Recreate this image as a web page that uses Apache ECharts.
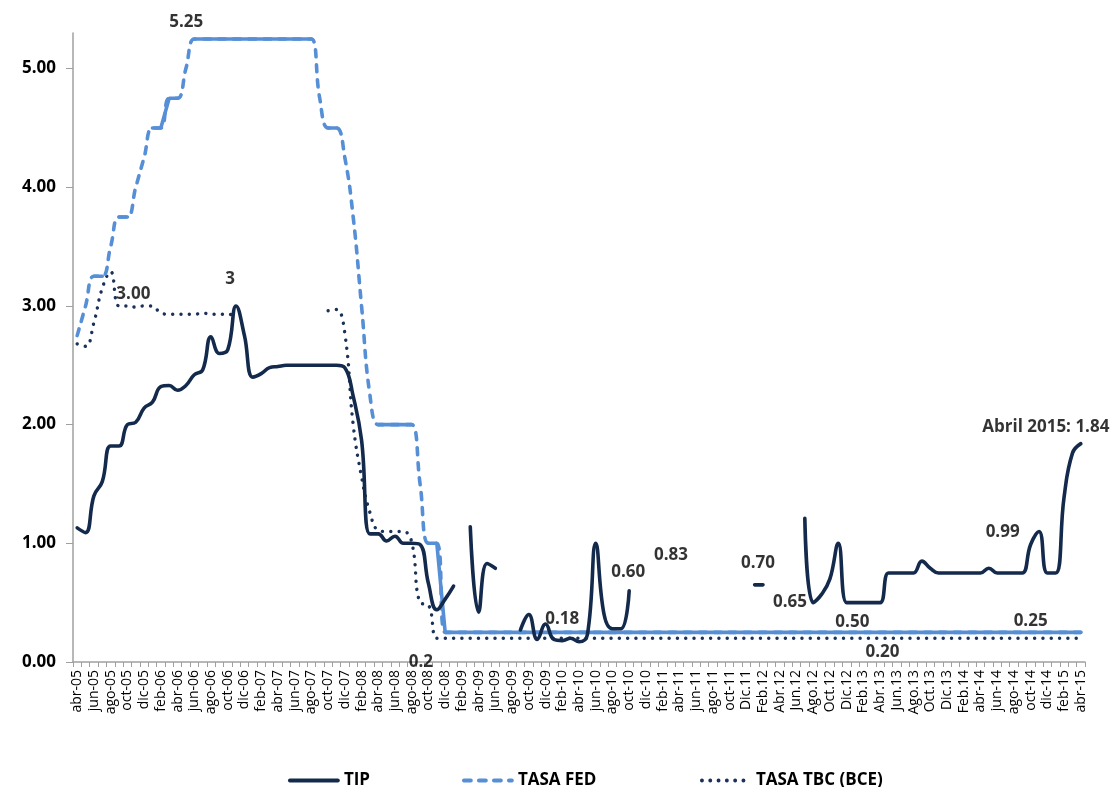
<!DOCTYPE html>
<html>
<head>
<meta charset="utf-8">
<title>TIP, TASA FED y TASA TBC (BCE)</title>
<script src="https://cdn.jsdelivr.net/npm/echarts@6/dist/echarts.min.js"></script>
<style>
  html, body { margin: 0; padding: 0; background: #ffffff; }
  #chart { width: 1111px; height: 787px; }
</style>
</head>
<body>
<div id="chart"></div>
<script>
// Monthly categories, abril 2005 - abril 2015
const categories = [
  'abr-05','may-05','jun-05','jul-05','ago-05','sep-05','oct-05','nov-05','dic-05',
  'ene-06','feb-06','mar-06','abr-06','may-06','jun-06','jul-06','ago-06','sep-06','oct-06','nov-06','dic-06',
  'ene-07','feb-07','mar-07','abr-07','may-07','jun-07','jul-07','ago-07','sep-07','oct-07','nov-07','dic-07',
  'ene-08','feb-08','mar-08','abr-08','may-08','jun-08','jul-08','ago-08','sep-08','oct-08','nov-08','dic-08',
  'ene-09','feb-09','mar-09','abr-09','may-09','jun-09','jul-09','ago-09','sep-09','oct-09','nov-09','dic-09',
  'ene-10','feb-10','mar-10','abr-10','may-10','jun-10','jul-10','ago-10','sep-10','oct-10','nov-10','dic-10',
  'ene-11','feb-11','mar-11','abr-11','may-11','jun-11','jul-11','ago-11','sep-11','oct-11','nov-11','Dic.11',
  'Ene.12','Feb.12','Mar.12','Abr.12','May.12','Jun.12','Jul.12','Ago.12','Sep.12','Oct.12','Nov.12','Dic.12',
  'Ene.13','Feb.13','Mar.13','Abr.13','May.13','Jun.13','Jul.13','Ago.13','Sep.13','Oct.13','Nov.13','Dic.13',
  'Ene.14','Feb.14','mar-14','abr-14','may-14','jun-14','jul-14','ago-14','sep-14','oct-14','nov-14','dic-14',
  'ene-15','feb-15','mar-15','abr-15'
];

// TIP (null = month without data)
const tip = [
  1.13, 1.09, 1.40, 1.52, 1.82, 1.82, 2.00, 2.02, 2.14,
  2.19, 2.32, 2.33, 2.29, 2.33, 2.42, 2.46, 2.74, 2.60, 2.63, 3.00, 2.75,
  2.40, 2.43, 2.48, 2.49, 2.50, 2.50, 2.50, 2.50, 2.50, 2.50, 2.50, 2.48,
  2.24, 1.87, 1.08, 1.08, 1.02, 1.06, 1.00, 1.00, 0.99, 0.66, 0.44, 0.53,
  0.64, null, 1.14, 0.42, 0.83, 0.79, null, null, 0.27, 0.40, 0.19, 0.32,
  0.19, 0.18, 0.20, 0.17, 0.23, 1.00, 0.40, 0.28, 0.28, 0.60, null, null,
  null, null, null, null, null, null, null, null, null, null, null, null,
  0.65, 0.65, null, null, null, null, 1.21, 0.50, 0.57, 0.70, 1.00, 0.50,
  0.50, 0.50, 0.50, 0.50, 0.75, 0.75, 0.75, 0.75, 0.85, 0.79, 0.75, 0.75,
  0.75, 0.75, 0.75, 0.75, 0.79, 0.75, 0.75, 0.75, 0.75, 0.99, 1.10, 0.75,
  0.75, 1.39, 1.76, 1.84
];

// TASA FED
const fed = [
  2.75, 3.00, 3.25, 3.25, 3.50, 3.75, 3.75, 4.00, 4.25,
  4.50, 4.50, 4.75, 4.75, 5.00, 5.25, 5.25, 5.25, 5.25, 5.25, 5.25, 5.25,
  5.25, 5.25, 5.25, 5.25, 5.25, 5.25, 5.25, 5.25, 4.75, 4.50, 4.50, 4.25,
  3.75, 3.00, 2.25, 2.00, 2.00, 2.00, 2.00, 2.00, 1.50, 1.00, 1.00, 0.25,
  0.25, 0.25, 0.25, 0.25, 0.25, 0.25, 0.25, 0.25, 0.25, 0.25, 0.25, 0.25,
  0.25, 0.25, 0.25, 0.25, 0.25, 0.25, 0.25, 0.25, 0.25, 0.25, 0.25, 0.25,
  0.25, 0.25, 0.25, 0.25, 0.25, 0.25, 0.25, 0.25, 0.25, 0.25, 0.25, 0.25,
  0.25, 0.25, 0.25, 0.25, 0.25, 0.25, 0.25, 0.25, 0.25, 0.25, 0.25, 0.25,
  0.25, 0.25, 0.25, 0.25, 0.25, 0.25, 0.25, 0.25, 0.25, 0.25, 0.25, 0.25,
  0.25, 0.25, 0.25, 0.25, 0.25, 0.25, 0.25, 0.25, 0.25, 0.25, 0.25, 0.25,
  0.25, 0.25, 0.25, 0.25
];

// TASA TBC (BCE) (null = month without data)
const tbc = [
  2.68, 2.66, 2.86, 3.15, 3.29, 3.00, 3.00, 2.99, 3.00,
  3.00, 2.94, 2.93, 2.93, 2.93, 2.93, 2.94, 2.93, 2.93, 2.93, 2.92, null,
  null, null, null, null, null, null, null, null, null, 2.96, 2.97, 2.77,
  2.00, 1.56, 1.26, 1.11, 1.10, 1.10, 1.10, 1.01, 0.50, 0.48, 0.20, 0.20,
  0.20, 0.20, 0.20, 0.20, 0.20, 0.20, 0.20, 0.20, 0.20, 0.20, 0.20, 0.20,
  0.20, 0.20, 0.20, 0.20, 0.20, 0.20, 0.20, 0.20, 0.20, 0.20, 0.20, 0.20,
  0.20, 0.20, 0.20, 0.20, 0.20, 0.20, 0.20, 0.20, 0.20, 0.20, 0.20, 0.20,
  0.20, 0.20, 0.20, 0.20, 0.20, 0.20, 0.20, 0.20, 0.20, 0.20, 0.20, 0.20,
  0.20, 0.20, 0.20, 0.20, 0.20, 0.20, 0.20, 0.20, 0.20, 0.20, 0.20, 0.20,
  0.20, 0.20, 0.20, 0.20, 0.20, 0.20, 0.20, 0.20, 0.20, 0.20, 0.20, 0.20,
  0.20, 0.20, 0.20, 0.20
];

// Y axis tick values
const yTicks = [0, 1, 2, 3, 4, 5];

// Values called out on the chart: series, month index, decimals, prefix
const callouts = [
  { key: 'fed', idx: 14,  digits: 2, prefix: '' },
  { key: 'tbc', idx: 6,   digits: 2, prefix: '' },
  { key: 'tip', idx: 19,  digits: 0, prefix: '' },
  { key: 'tbc', idx: 43,  digits: 1, prefix: '' },
  { key: 'tip', idx: 58,  digits: 2, prefix: '' },
  { key: 'tip', idx: 66,  digits: 2, prefix: '' },
  { key: 'tip', idx: 49,  digits: 2, prefix: '' },
  { key: 'tip', idx: 90,  digits: 2, prefix: '' },
  { key: 'tip', idx: 82,  digits: 2, prefix: '' },
  { key: 'tip', idx: 94,  digits: 2, prefix: '' },
  { key: 'tbc', idx: 97,  digits: 2, prefix: '' },
  { key: 'tip', idx: 114, digits: 2, prefix: '' },
  { key: 'fed', idx: 114, digits: 2, prefix: '' },
  { key: 'tip', idx: 120, digits: 2, prefix: 'Abril 2015: ' }
];

// Pixel shift of each callout text from its point (same order as callouts)
const calloutShift = [
  [-8, -17], [6, -12], [-6, -27], [-16, 24], [0, -21], [-1, -19], [184, -8],
  [-72, -16], [27, 17], [-11, 19], [-6, 14], [-28, -12], [0, -11], [-35, -16]
];

const COLOR_TIP = '#142a4c';
const COLOR_FED = '#568fd6';
const COLOR_TBC = '#1a3159';
const FONT = "'Open Sans', 'Liberation Sans', sans-serif";

const seriesByKey = { tip: tip, fed: fed, tbc: tbc };

// Flat stretches of the FED rate (drawn as a continuous stroke on top of the dashes)
const fedFlat = fed.map(function (v, i) {
  const same = (i > 0 && fed[i - 1] === v) || (i < fed.length - 1 && fed[i + 1] === v);
  return same ? v : null;
});

const calloutData = callouts.map(function (c, n) {
  const v = seriesByKey[c.key][c.idx];
  return {
    value: [c.idx, v],
    label: {
      show: true,
      position: 'inside',
      align: 'center',
      verticalAlign: 'middle',
      offset: calloutShift[n],
      formatter: c.prefix + v.toFixed(c.digits)
    }
  };
});

const chart = echarts.init(document.getElementById('chart'), null, { renderer: 'canvas' });

const legendBase = {
  orient: 'horizontal',
  top: 767,
  itemWidth: 48,
  itemHeight: 16,
  selectedMode: false,
  itemStyle: { opacity: 0 },
  lineStyle: { width: 3.8 },
  textStyle: { fontFamily: FONT, fontSize: 17, fontWeight: 'bold', color: '#000', padding: [0, 0, 0, 1] }
};

chart.setOption({
  animation: false,
  backgroundColor: '#ffffff',
  grid: { left: 73, right: 26, top: 33, bottom: 125, containLabel: false, outerBoundsMode: 'none' },
  legend: [
    Object.assign({}, legendBase, { left: 283, data: ['TIP'] }),
    Object.assign({}, legendBase, { left: 457, data: ['TASA FED'] }),
    Object.assign({}, legendBase, { left: 695, data: ['TASA TBC (BCE)'] })
  ],
  xAxis: {
    type: 'category',
    data: categories,
    boundaryGap: true,
    axisLine: { lineStyle: { color: '#a0a0a0', width: 1.5 } },
    axisTick: { show: true, interval: 0, length: 5, lineStyle: { color: '#a0a0a0' } },
    axisLabel: {
      interval: 1,
      rotate: 90,
      margin: 8,
      fontFamily: FONT,
      fontSize: 14,
      color: '#000'
    },
    splitLine: { show: false }
  },
  yAxis: {
    type: 'value',
    min: 0,
    max: 5.3,
    interval: 1,
    axisLine: { show: true, lineStyle: { color: '#a0a0a0', width: 1.5 } },
    axisTick: { show: true, length: 7, customValues: yTicks, lineStyle: { color: '#a0a0a0' } },
    axisLabel: {
      customValues: yTicks,
      margin: 17,
      fontFamily: FONT,
      fontSize: 17,
      fontWeight: 'bold',
      color: '#000',
      formatter: function (v) { return v.toFixed(2); }
    },
    splitLine: { show: false }
  },
  series: [
    {
      name: 'TIP',
      type: 'line',
      data: tip,
      smooth: 0.45,
      connectNulls: false,
      symbol: 'none',
      lineStyle: { color: COLOR_TIP, width: 3.6, cap: 'round', join: 'round' },
      itemStyle: { color: COLOR_TIP },
      z: 4
    },
    {
      name: 'TASA FED',
      type: 'line',
      data: fed,
      smooth: 0.45,
      symbol: 'none',
      lineStyle: { color: COLOR_FED, width: 3.6, type: [7, 8], cap: 'round', join: 'round' },
      itemStyle: { color: COLOR_FED },
      z: 3
    },
    {
      name: 'fed-flat',
      type: 'line',
      data: fedFlat,
      connectNulls: false,
      symbol: 'none',
      lineStyle: { color: COLOR_FED, width: 3.6, cap: 'round' },
      itemStyle: { color: COLOR_FED },
      z: 3,
      silent: true
    },
    {
      name: 'TASA TBC (BCE)',
      type: 'line',
      data: tbc,
      smooth: 0.45,
      connectNulls: false,
      symbol: 'none',
      lineStyle: { color: COLOR_TBC, width: 3.4, type: [0.1, 8.2], cap: 'round', join: 'round' },
      itemStyle: { color: COLOR_TBC },
      z: 2
    },
    {
      name: 'callouts',
      type: 'scatter',
      data: calloutData,
      symbolSize: 1,
      itemStyle: { color: 'rgba(0,0,0,0)' },
      silent: true,
      z: 6,
      label: {
        fontFamily: FONT,
        fontSize: 17,
        fontWeight: 'bold',
        color: '#000'
      }
    }
  ]
});
</script>
</body>
</html>
